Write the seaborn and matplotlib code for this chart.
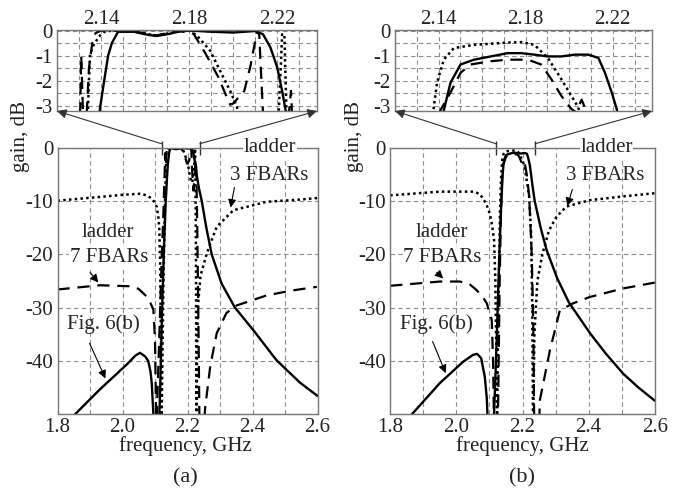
import matplotlib
matplotlib.use("Agg")
import numpy as np
import pandas as pd
import matplotlib.pyplot as plt
import seaborn as sns
from matplotlib.patches import ConnectionPatch

# ---------------- data (frequency GHz, gain dB) ----------------
# panel (a)
a_solid_f = [1.85, 1.93, 2.013, 2.04, 2.054, 2.07, 2.079, 2.086, 2.09, 2.095, 2.098, 2.112, 2.116, 2.122,
             2.128, 2.133, 2.137, 2.1395, 2.1414, 2.1432, 2.1449, 2.1477, 2.155, 2.16, 2.165, 2.17, 2.175,
             2.18, 2.19, 2.2, 2.205, 2.21, 2.2135, 2.2168, 2.2199, 2.2221, 2.2236, 2.228, 2.235, 2.244,
             2.258, 2.2745, 2.305, 2.346, 2.402, 2.474, 2.546, 2.6]
a_solid_db = [-50.3, -45.4, -40.7, -39.0, -38.5, -39.2, -40.0, -42.0, -44.2, -50.0, -53.0, -53.0, -45.0, -30.0,
              -18.0, -10.0, -5.5, -3.1, -2.0, -1.0, -0.5, -0.05, -0.05, -0.15, -0.22, -0.15, -0.05,
              0.0, -0.05, -0.08, -0.05, -0.02, -0.15, -0.66, -1.45, -2.37, -3.1, -5.0, -7.5, -10.0,
              -15.0, -20.0, -25.5, -30.0, -34.2, -39.9, -44.1, -46.6]

a_dot_f = [1.8, 1.93, 2.0, 2.054, 2.075, 2.09, 2.1, 2.105, 2.11, 2.113, 2.116, 2.118, 2.12, 2.126, 2.131,
           2.1335, 2.1345, 2.135, 2.1365, 2.139, 2.141, 2.145, 2.155, 2.165, 2.175, 2.18, 2.1835, 2.1895,
           2.194, 2.1986, 2.2017, 2.205, 2.21, 2.215, 2.2205, 2.2222, 2.2232, 2.2242, 2.226, 2.2275, 2.229,
           2.232, 2.24, 2.259, 2.269, 2.29, 2.341, 2.444, 2.546, 2.6]
a_dot_db = [-9.9, -9.2, -8.8, -8.6, -8.9, -9.5, -10.3, -11.0, -12.8, -14.8, -22.0, -35.0, -53.0, -25.0, -10.0,
            -4.5, -2.0, -0.95, -0.6, -0.25, -0.07, 0.0, -0.05, -0.2, -0.05, 0.0, -0.2, -0.8,
            -1.6, -2.4, -3.05, -4.5, -6.0, -6.5, -3.5, -0.15, -0.15, -3.5, -20.0, -53.0, -40.0,
            -29.8, -24.0, -19.9, -18.2, -14.8, -11.7, -10.1, -9.7, -9.4]

a_dash_f = [1.8, 1.93, 2.03, 2.05, 2.074, 2.085, 2.095, 2.1, 2.104, 2.112, 2.12, 2.126, 2.129, 2.1305,
            2.131, 2.1318, 2.1335, 2.1345, 2.136, 2.1375, 2.14, 2.15, 2.16, 2.165, 2.17, 2.175, 2.182,
            2.1873, 2.1932, 2.1973, 2.1986, 2.2, 2.205, 2.2077, 2.21, 2.211, 2.2118, 2.2125, 2.2135,
            2.218, 2.2245, 2.2262, 2.2275, 2.23, 2.234, 2.237, 2.25, 2.254, 2.27, 2.29, 2.32, 2.351,
            2.444, 2.52, 2.598]
a_dash_db = [-26.6, -25.8, -26.0, -26.5, -27.9, -29.0, -30.4, -36.0, -53.0, -38.0, -22.0, -12.0, -6.0, -3.3,
             -1.0, -3.3, -3.3, -1.5, -0.5, -0.1, 0.0, 0.0, -0.1, -0.2, -0.1, 0.0, -0.13,
             -0.9, -1.85, -2.7, -2.95, -2.9, -2.4, -1.45, -0.4, 0.0, -0.2, -1.5, -3.3,
             -8.0, -4.0, -2.4, -5.0, -15.0, -35.0, -53.0, -53.0, -49.0, -41.0, -34.8, -31.0, -29.6,
             -27.7, -26.8, -26.1]

# panel (b)
b_solid_f = [1.862, 1.95, 2.02, 2.05, 2.063, 2.075, 2.086, 2.092, 2.096, 2.112, 2.117, 2.122, 2.13, 2.136,
             2.14, 2.1424, 2.1455, 2.1501, 2.1563, 2.164, 2.1717, 2.1779, 2.184, 2.1902, 2.1964, 2.2025,
             2.2087, 2.2134, 2.2164, 2.2195, 2.2218, 2.226, 2.23, 2.237, 2.255, 2.273, 2.305, 2.34, 2.404,
             2.45, 2.504, 2.55, 2.6]
b_solid_db = [-50.3, -44.2, -40.2, -38.9, -38.7, -39.5, -43.0, -47.0, -53.0, -53.0, -45.0, -36.0, -20.0, -10.0,
              -5.0, -3.18, -2.07, -1.35, -1.16, -1.03, -0.9, -0.9, -0.96, -1.03, -1.03, -0.96,
              -0.96, -1.09, -1.68, -2.46, -3.12, -5.0, -7.0, -10.0, -15.0, -19.2, -24.5, -29.0, -34.8,
              -38.5, -42.4, -45.0, -47.5]

b_dot_f = [1.8, 1.95, 2.051, 2.07, 2.081, 2.092, 2.101, 2.108, 2.114, 2.118, 2.121, 2.123, 2.127, 2.132,
           2.135, 2.1377, 2.1393, 2.1424, 2.147, 2.1563, 2.1717, 2.1779, 2.184, 2.1902, 2.1964, 2.201,
           2.2041, 2.21, 2.22, 2.226, 2.2295, 2.232, 2.236, 2.245, 2.26, 2.28, 2.303, 2.333, 2.404,
           2.504, 2.6]
b_dot_db = [-8.9, -8.2, -8.2, -8.6, -9.5, -10.8, -12.3, -14.5, -17.3, -25.0, -40.0, -53.0, -30.0, -12.0,
            -6.0, -3.12, -2.07, -1.16, -0.7, -0.57, -0.48, -0.46, -0.57, -1.09, -1.94, -2.6,
            -3.05, -5.0, -9.0, -16.0, -30.0, -53.0, -35.0, -25.0, -20.0, -15.5, -12.9, -11.0, -9.8,
            -9.1, -8.5]

b_dash_f = [1.8, 1.95, 2.011, 2.04, 2.061, 2.08, 2.092, 2.107, 2.111, 2.114, 2.125, 2.127, 2.131, 2.135,
            2.138, 2.1408, 2.1455, 2.1501, 2.1547, 2.164, 2.1717, 2.181, 2.1871, 2.1918, 2.1964, 2.201,
            2.203, 2.2057, 2.208, 2.213, 2.22, 2.228, 2.233, 2.2355, 2.25, 2.2525, 2.283, 2.313, 2.353,
            2.404, 2.504, 2.6]
b_dash_db = [-25.9, -25.1, -25.1, -25.6, -26.7, -28.0, -29.2, -32.3, -40.0, -53.0, -53.0, -45.0, -25.0, -12.0,
             -6.0, -3.18, -2.46, -1.68, -1.35, -1.22, -1.16, -1.16, -1.35, -1.94, -2.6, -3.12,
             -3.25, -2.75, -3.25, -5.0, -9.0, -20.0, -35.0, -53.0, -53.0, -47.4, -38.0, -30.5, -29.2,
             -28.0, -26.4, -25.3]

main_xticks = [1.8, 1.9, 2.0, 2.1, 2.2, 2.3, 2.4, 2.5, 2.6]
main_xlabels = ["1.8", "", "2.0", "", "2.2", "", "2.4", "", "2.6"]
main_yticks = [0, -10, -20, -30, -40, -50]
main_ylabels = ["0", "-10", "-20", "-30", "-40", ""]
ins_xticks = [2.12, 2.13, 2.14, 2.15, 2.16, 2.17, 2.18, 2.19, 2.20, 2.21, 2.22, 2.23]
ins_xlabels = ["", "", "2.14", "", "", "", "2.18", "", "", "", "2.22", ""]
ins_yticks = [0, -0.5, -1, -1.5, -2, -2.5, -3]
ins_ylabels = ["0", "", "-1", "", "-2", "", "-3"]
ins_xlim = (2.12, 2.238)

# ---------------- style ----------------
sns.set_theme(style="white")
plt.rcParams['font.family'] = ['Liberation Serif', 'DejaVu Serif']
plt.rcParams['axes.unicode_minus'] = False

FS = 15
W, H = 678, 493
def rect(l, r, t, b):
    return [l / W, 1 - b / H, (r - l) / W, (b - t) / H]

fig = plt.figure(figsize=(6.78, 4.93), dpi=100)

panels = {
    "a": dict(main=rect(57.5, 317.5, 148, 414), ins=rect(57, 317, 30, 111),
              curves=[(a_solid_f, a_solid_db, "-"), (a_dot_f, a_dot_db, ":"), (a_dash_f, a_dash_db, "--")],
              ylab_x=20, lab_x=185),
    "b": dict(main=rect(390.2, 654.8, 148, 414), ins=rect(395, 652, 30, 111),
              curves=[(b_solid_f, b_solid_db, "-"), (b_dot_f, b_dot_db, ":"), (b_dash_f, b_dash_db, "--")],
              ylab_x=354, lab_x=522),
}

grid_kw = dict(color="#8c8c8c", linestyle=(0, (4, 3)), linewidth=0.8)

def style_ax(ax):
    for s in ax.spines.values():
        s.set_color("#777777")
        s.set_linewidth(1.0)
    ax.tick_params(length=0, labelsize=FS, colors="#222222")
    ax.set_axisbelow(True)
    ax.grid(True, **grid_kw)

def draw(ax, curves):
    for f, g, ls in curves:
        df = pd.DataFrame({"f": f, "g": g})
        if ls == "-":
            kw = dict(linestyle="-", linewidth=1.7)
        elif ls == ":":
            kw = dict(linestyle=(0, (1, 1.3)), linewidth=1.8)
        else:
            kw = dict(linestyle=(0, (5.5, 3.5)), linewidth=1.6)
        sns.lineplot(data=df, x="f", y="g", sort=False, estimator=None, color="black", ax=ax, **kw)
    ax.set_xlabel("")
    ax.set_ylabel("")

for key, p in panels.items():
    ax = fig.add_axes(p["main"])
    draw(ax, p["curves"])
    ax.set_xlim(1.8, 2.6)
    ax.set_ylim(-50, 0)
    ax.set_xticks(main_xticks)
    ax.set_xticklabels(main_xlabels)
    ax.set_yticks(main_yticks)
    ax.set_yticklabels(main_ylabels)
    style_ax(ax)
    ax.tick_params(axis="both", pad=3)

    ins = fig.add_axes(p["ins"])
    draw(ins, p["curves"])
    ins.set_xlim(*ins_xlim)
    ins.set_ylim(-3.2, 0.02)
    ins.set_xticks(ins_xticks)
    ins.set_xticklabels(ins_xlabels)
    ins.set_yticks(ins_yticks)
    ins.set_yticklabels(ins_ylabels)
    ins.xaxis.tick_top()
    style_ax(ins)
    ins.tick_params(axis="x", pad=1)
    ins.tick_params(axis="y", pad=3)

    # markers of the zoomed range on the main top edge + arrows to the inset
    ax.vlines(list(ins_xlim), -1.4, 1.4, color="#333333", lw=1.0, clip_on=False)
    for xs, xa in ((ins_xlim[0], 0.0), (ins_xlim[1], 1.0)):
        con = ConnectionPatch(xyA=(xs, 0.8), coordsA=ax.transData,
                              xyB=(xa, 0.0), coordsB=ins.transAxes,
                              arrowstyle="-|>", mutation_scale=14, lw=0.8,
                              color="#333333", zorder=5)
        fig.add_artist(con)

    tb = dict(fc="white", ec="none", pad=0.3)
    ax.text(2.454, 0, "ladder", fontsize=FS, ha="center", va="center", bbox=tb, zorder=6)
    ax.text(2.45, -5.1, "3 FBARs", fontsize=FS, ha="center", va="center", zorder=6)
    ax.text(1.955, -15.8, "ladder", fontsize=FS, ha="center", va="center", zorder=6)
    ax.text(1.958, -20.5, "7 FBARs", fontsize=FS, ha="center", va="center", bbox=tb, zorder=6)
    ax.text(1.94, -33.2, "Fig. 6(b)", fontsize=FS, ha="center", va="center", zorder=6)
    akw = dict(arrowstyle="-|>", mutation_scale=12, lw=0.8, color="black")
    if key == "a":
        ax.annotate("", xy=(2.331, -11.7), xytext=(2.346, -6.9), arrowprops=akw)
        ax.annotate("", xy=(1.931, -25.7), xytext=(1.895, -23.0), arrowprops=akw)
        ax.annotate("", xy=(1.951, -43.8), xytext=(1.895, -36.2), arrowprops=akw)
    else:
        ax.annotate("", xy=(2.333, -11.4), xytext=(2.353, -7.3), arrowprops=akw)
        ax.annotate("", xy=(1.966, -24.9), xytext=(1.935, -23.0), arrowprops=akw)
        ax.annotate("", xy=(1.971, -42.8), xytext=(1.925, -35.9), arrowprops=akw)

    fig.text(p["ylab_x"] / W, 1 - 136 / H, "gain, dB", rotation=90, fontsize=FS,
             ha="center", va="center", color="#222222")
    fig.text(p["lab_x"] / W, 1 - 446 / H, "frequency, GHz", fontsize=FS,
             ha="center", va="center", color="#222222")
    fig.text(p["lab_x"] / W, 1 - 478 / H, "(%s)" % key, fontsize=FS + 1,
             ha="center", va="center", color="#222222")

fig.savefig("out.png", dpi=100, facecolor="white")
